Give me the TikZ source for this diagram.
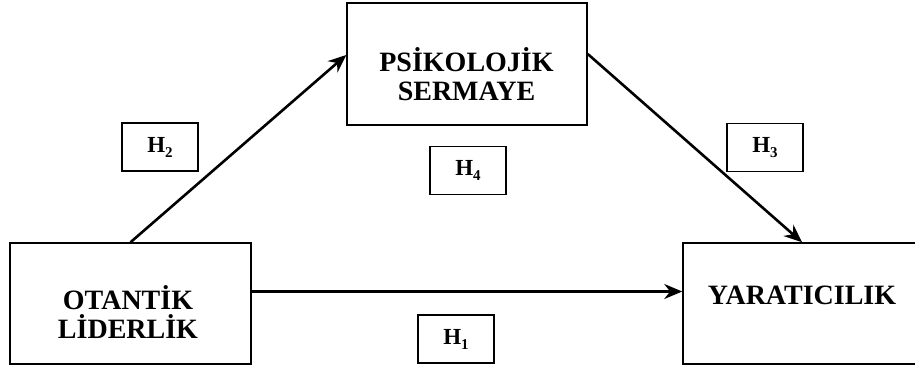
\documentclass[tikz,border=0pt]{standalone}
\usepackage{fontspec}
\setmainfont{Liberation Serif}
\usetikzlibrary{arrows.meta}
\tikzset{
  bigbox/.style={draw, line width=1.5pt, inner sep=0pt, fill=white},
  hbox/.style={draw, line width=1.5pt, inner sep=0pt, minimum width=76pt, minimum height=48pt,
    font=\fontsize{23}{23}\selectfont\bfseries},
  lbl/.style={align=center, inner sep=0pt, font=\fontsize{28}{29}\selectfont\bfseries},
  arr/.style={line width=2.6pt, -{Stealth[length=18pt,width=15pt]}}
}
\newcommand{\hsub}[1]{\raisebox{-5pt}{\fontsize{15}{15}\selectfont #1}}
\begin{document}
\begin{tikzpicture}[x=1pt,y=-1pt]
\useasboundingbox (0,0) rectangle (915,367);
\clip (0,0) rectangle (915,367);
\fill[white] (0,0) rectangle (915,367);
\node[bigbox, minimum width=241pt, minimum height=121pt] (ol) at (130.5,303.5) {};
\node[bigbox, minimum width=240pt, minimum height=122pt] (ps) at (467,64) {};
\node[bigbox, minimum width=238pt, minimum height=121pt] (ya) at (802,303.5) {};
\node[lbl, anchor=base] (tol) at (128,338) {OTANTİK\\LİDERLİK};
\node[lbl, anchor=base] (tps) at (466.5,100) {PSİKOLOJİK\\SERMAYE};
\node[lbl, anchor=base] (tya) at (802,304) {YARATICILIK};
\node[hbox] (h2) at (160,147) {H\hsub{2}};
\node[hbox] (h4) at (468,170.5) {H\hsub{4}};
\node[hbox] (h3) at (765,147.5) {H\hsub{3}};
\node[hbox] (h1) at (456,339) {H\hsub{1}};
\draw[arr] (ol.north) -- ([yshift=9pt]ps.west);
\draw[arr] ([yshift=10pt]ps.east) -- (ya.north);
\draw[arr] ([yshift=12pt]ol.east) -- ([yshift=12pt]ya.west);
\end{tikzpicture}
\end{document}
